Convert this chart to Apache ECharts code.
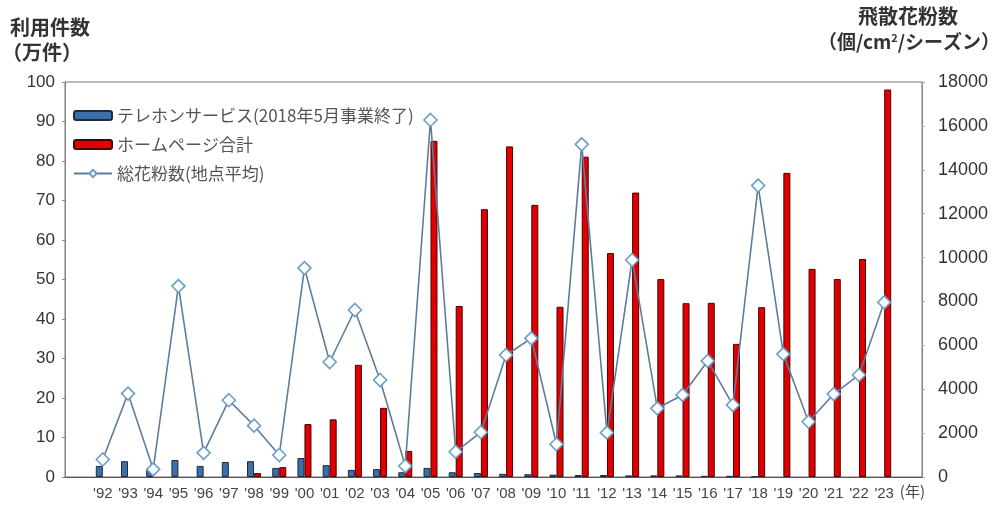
<!DOCTYPE html>
<html>
<head>
<meta charset="utf-8">
<script src="https://cdn.jsdelivr.net/npm/echarts@6/dist/echarts.min.js"></script>
<style>
html,body{margin:0;padding:0;background:#fff;}
#main{width:994px;height:506px;}
</style>
</head>
<body>
<div id="main"></div>
<script>
// ---- data ----
var years = ["'92","'93","'94","'95","'96","'97","'98","'99","'00","'01","'02","'03","'04","'05","'06","'07","'08","'09","'10","'11","'12","'13","'14","'15","'16","'17","'18","'19","'20","'21","'22","'23"];
var telephone = [2.8,4.0,1.8,4.3,2.8,3.8,4.0,2.3,4.8,3.0,1.8,2.0,1.2,2.3,1.2,1.0,0.8,0.7,0.6,0.5,0.5,0.4,0.4,0.4,0.3,0.3,0.2,null,null,null,null,null];
var homepage = [null,null,null,null,null,null,1.0,2.5,13.4,14.6,28.4,17.5,6.6,85.1,43.3,67.8,83.7,68.9,43.1,81.1,56.7,72.0,50.1,44.0,44.1,33.7,43.0,77.0,52.7,50.1,55.2,98.1];
var pollen = [800,3800,350,8700,1100,3500,2340,1000,9520,5240,7610,4420,500,16270,1150,2040,5560,6320,1490,15160,2020,9890,3130,3740,5290,3280,13280,5600,2520,3780,4650,7960];
var leftTicks = {min:0,max:100,interval:10};
var rightTicks = {min:0,max:18000,interval:2000};
var seriesNames = ['テレホンサービス(2018年5月事業終了)','ホームページ合計','総花粉数(地点平均)'];

// pad one empty category at each end (chart has extra space at both sides)
function pad(a){ return [null].concat(a).concat([null]); }
var cats = [''].concat(years).concat(['']);

var chart = echarts.init(document.getElementById('main'));
var numFont = "'Liberation Sans', Arial, sans-serif";
var jpFont = "'Noto Sans CJK JP', sans-serif";
chart.setOption({
  animation:false,
  grid:{left:65,right:72,top:82,bottom:29,show:true,borderColor:'#777',borderWidth:1,backgroundColor:'transparent'},
  graphic:[
    {type:'text',left:10,top:17,style:{text:'利用件数',font:"bold 20px 'Noto Sans CJK JP'",fill:'#333'}},
    {type:'text',left:2,top:42,style:{text:'（万件）',font:"bold 20px 'Noto Sans CJK JP'",fill:'#333'}},
    {type:'text',left:858,top:6,style:{text:'飛散花粉数',font:"bold 20px 'Noto Sans CJK JP'",fill:'#333'}},
    {type:'text',left:818,top:32,style:{rich:{a:{font:"bold 19px 'Noto Sans CJK JP'",fill:'#333'},s:{font:"bold 11px 'Noto Sans CJK JP'",fill:'#333',verticalAlign:'top',padding:[0,0,8,0]}},text:'{a|（個/cm}{s|2}{a|/シーズン）}'}}
  ],
  legend:{
    orient:'vertical',left:68,top:102,itemWidth:38,itemHeight:9,itemGap:12,
    textStyle:{fontFamily:jpFont,fontSize:17,color:'#555'},
    data:seriesNames
  },
  xAxis:{
    type:'category',data:cats,
    axisLine:{lineStyle:{color:'#555'}},
    axisTick:{show:false},
    axisLabel:{interval:0,fontFamily:numFont,fontSize:15,color:'#444',margin:9},
    name:'(年)',nameLocation:'end',nameGap:-25,
    nameTextStyle:{fontFamily:jpFont,fontSize:15,color:'#444',verticalAlign:'top',padding:[7,0,0,0]}
  },
  yAxis:[
    {type:'value',min:leftTicks.min,max:leftTicks.max,interval:leftTicks.interval,
     axisLine:{show:true,lineStyle:{color:'#888'}},
     axisTick:{show:true,inside:false,length:3,lineStyle:{color:'#888'}},
     splitLine:{show:false},
     axisLabel:{fontFamily:numFont,fontSize:17,color:'#333',margin:10}},
    {type:'value',min:rightTicks.min,max:rightTicks.max,interval:rightTicks.interval,position:'right',
     axisLine:{show:true,lineStyle:{color:'#888'}},
     axisTick:{show:true,length:3,lineStyle:{color:'#aaa'}},
     splitLine:{show:false},
     axisLabel:{fontFamily:numFont,fontSize:18,color:'#333',margin:16,formatter:function(v){return String(v);}}}
  ],
  series:[
    {name:seriesNames[0],type:'bar',data:pad(telephone),barWidth:7,barGap:'0%',
     itemStyle:{color:'#3a6fa8',borderColor:'#1b2b44',borderWidth:1}},
    {name:seriesNames[1],type:'bar',data:pad(homepage),barWidth:7,barGap:'0%',
     itemStyle:{color:'#e00000',borderColor:'#4a0000',borderWidth:1}},
    {name:seriesNames[2],type:'line',yAxisIndex:1,data:pad(pollen),connectNulls:false,
     symbol:'diamond',symbolSize:13,
     lineStyle:{color:'#5d7d9e',width:1.6},
     itemStyle:{color:'#ffffff',borderColor:'#6a9fc6',borderWidth:1.6}}
  ]
});
</script>
</body>
</html>
